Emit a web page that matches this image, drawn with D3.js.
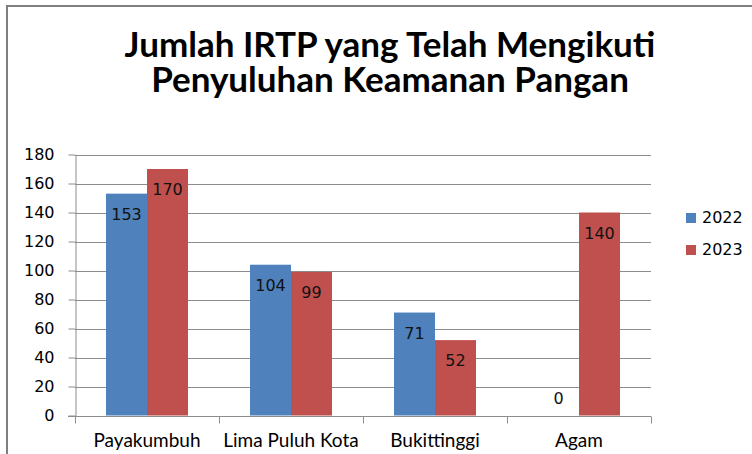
<!DOCTYPE html>
<html>
<head>
<meta charset="utf-8">
<script src="https://cdn.jsdelivr.net/npm/d3@7"></script>
<style>
  html, body { margin: 0; padding: 0; background: #fff; }
  svg { display: block; }
</style>
</head>
<body>
<svg width="752" height="454"></svg>
<script>
// chart data
const categories = ["Payakumbuh", "Lima Puluh Kota", "Bukittinggi", "Agam"];
const seriesNames = ["2022", "2023"];
const values2022 = [153, 104, 71, 0];
const values2023 = [170, 99, 52, 140];
const yTicks = [0, 20, 40, 60, 80, 100, 120, 140, 160, 180];
const titleLines = ["Jumlah IRTP yang Telah Mengikuti", "Penyuluhan Keamanan Pangan"];

const colors = { "2022": "#4f81bd", "2023": "#c0504d" };
const gridColor = "#8c8c8c";

const svg = d3.select("svg");

// chart frame (runs off the right and bottom edge like in the screenshot)
svg.append("rect")
    .attr("x", 7).attr("y", 6)
    .attr("width", 800).attr("height", 500)
    .attr("fill", "#fff")
    .attr("stroke", "#7f7f7f").attr("stroke-width", 2);

// title
svg.append("g").selectAll("text").data(titleLines).join("text")
    .attr("x", 390)
    .attr("y", (d, i) => 57 + i * 35)
    .attr("text-anchor", "middle")
    .attr("font-family", "Lato, 'Open Sans', sans-serif")
    .attr("font-weight", "bold")
    .attr("font-size", 35)
    .attr("fill", "#000")
    .text(d => d);

const plot = { left: 75, right: 651, top: 154.5, bottom: 415.5 };

const y = d3.scaleLinear().domain([0, 180]).range([plot.bottom, plot.top]);
const x0 = d3.scaleBand().domain(categories).range([plot.left, plot.right]);
const barW = 41;
const x1 = d3.scaleBand().domain(seriesNames)
    .range([(x0.bandwidth() - 2 * barW) / 2, (x0.bandwidth() + 2 * barW) / 2]);

// gridlines
svg.append("g").selectAll("line").data(yTicks.filter(d => d > 0)).join("line")
    .attr("x1", plot.left).attr("x2", plot.right)
    .attr("y1", d => Math.round(y(d)) + 0.5).attr("y2", d => Math.round(y(d)) + 0.5)
    .attr("stroke", gridColor).attr("stroke-width", 1);

// y axis
const yAxis = svg.append("g")
    .attr("transform", `translate(${plot.left + 0.5},0)`)
    .call(d3.axisLeft(y).tickValues(yTicks).tickSize(7).tickPadding(14).tickSizeOuter(0));
yAxis.select(".domain").attr("stroke", gridColor);
yAxis.selectAll(".tick line").attr("stroke", gridColor);
yAxis.selectAll(".tick text")
    .attr("font-family", "'DejaVu Sans', Verdana, sans-serif")
    .attr("font-size", 16)
    .attr("fill", "#000");

// bars
const data = categories.map((c, i) => ({ cat: c, vals: [
    { s: "2022", v: values2022[i] },
    { s: "2023", v: values2023[i] }
] }));

const groups = svg.append("g").selectAll("g").data(data).join("g")
    .attr("transform", d => `translate(${x0(d.cat)},0)`);

groups.selectAll("rect").data(d => d.vals).join("rect")
    .attr("x", d => x1(d.s))
    .attr("y", d => y(d.v))
    .attr("width", x1.bandwidth())
    .attr("height", d => y(0) - y(d.v))
    .attr("fill", d => colors[d.s]);

// data labels (inside end)
groups.selectAll("text").data(d => d.vals).join("text")
    .attr("x", d => x1(d.s) + x1.bandwidth() / 2)
    .attr("y", d => d.v === 0 ? y(0) - 12 : y(d.v) + 26)
    .attr("text-anchor", "middle")
    .attr("font-family", "'DejaVu Sans', Verdana, sans-serif")
    .attr("font-size", 16)
    .attr("fill", "#111")
    .text(d => d.v);

// x axis
const xAxis = svg.append("g")
    .attr("transform", `translate(0,${Math.round(plot.bottom) + 0.5})`);
xAxis.append("line")
    .attr("x1", plot.left - 7).attr("x2", plot.right)
    .attr("stroke", gridColor);
xAxis.selectAll("line.tick").data(categories.map(c => x0(c)).concat([plot.right])).join("line")
    .attr("class", "tick")
    .attr("x1", d => Math.round(d) + 0.5).attr("x2", d => Math.round(d) + 0.5)
    .attr("y1", 0).attr("y2", 7)
    .attr("stroke", gridColor);
xAxis.selectAll("text").data(categories).join("text")
    .attr("x", d => x0(d) + x0.bandwidth() / 2)
    .attr("y", 30)
    .attr("text-anchor", "middle")
    .attr("font-family", "Lato, 'Open Sans', sans-serif")
    .attr("font-size", 19)
    .attr("fill", "#000")
    .text(d => d);

// legend
const legend = svg.append("g").selectAll("g").data(seriesNames).join("g")
    .attr("transform", (d, i) => `translate(686,${213 + i * 32})`);
legend.append("rect")
    .attr("width", 10).attr("height", 10)
    .attr("fill", d => colors[d]);
legend.append("text")
    .attr("x", 16).attr("y", 10)
    .attr("font-family", "'DejaVu Sans', Verdana, sans-serif")
    .attr("font-size", 16)
    .attr("fill", "#000")
    .text(d => d);
</script>
</body>
</html>
